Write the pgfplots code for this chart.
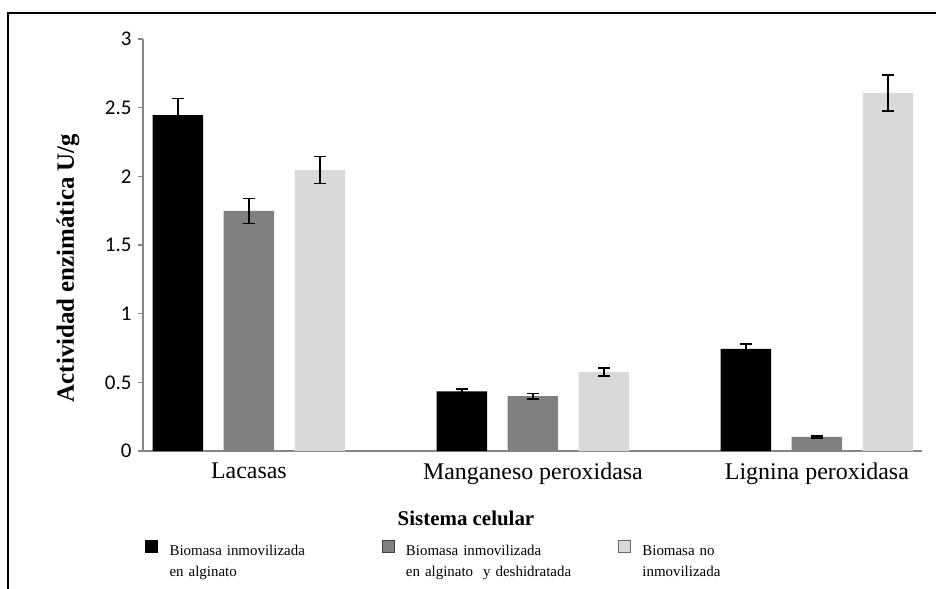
\documentclass[border=0pt]{standalone}
\usepackage{pgfplots}
\usepackage{pgfplotstable}
\pgfplotsset{compat=1.18}
\usepackage{fontspec}
\setmainfont{Liberation Serif}
\newfontfamily\carlito{Carlito}
\definecolor{serA}{HTML}{000000}
\definecolor{serB}{HTML}{808080}
\definecolor{serC}{HTML}{D9D9D9}
\definecolor{axgray}{HTML}{868686}

\pgfplotstableread{
x y e
0 2.445 0.12
1 0.435 0.015
2 0.743 0.035
}\dataA
\pgfplotstableread{
x y e
0 1.748 0.09
1 0.400 0.02
2 0.102 0.006
}\dataB
\pgfplotstableread{
x y e
0 2.046 0.10
1 0.575 0.03
2 2.607 0.13
}\dataC

\begin{document}
\begin{tikzpicture}
\path[use as bounding box] (0bp,0bp) rectangle (936bp,589bp);
\draw[line width=2bp] (8bp,0bp) -- (8bp,576bp) -- (936bp,576bp);
\begin{axis}[
  at={(143bp,138bp)}, anchor=south west,
  scale only axis, width=779bp, height=412bp,
  xmin=-0.373, xmax=2.370, ymin=0, ymax=3,
  axis x line*=bottom, axis y line*=left,
  axis line style={draw=axgray, line width=1.3bp},
  ytick={0,0.5,1,1.5,2,2.5,3},
  xtick={0,1,2},
  xticklabels={Lacasas, Manganeso peroxidasa, Lignina peroxidasa},
  x tick style={draw=none},
  y tick style={draw=axgray, line width=1.3bp},
  tick align=outside, major tick length=5bp,
  /pgf/number format/assume math mode=true,
  yticklabel style={font=\carlito\fontsize{21}{21}\selectfont, text=black, xshift=-3bp},
  xticklabel style={font=\fontsize{24}{24}\selectfont, yshift=-3bp},
  ybar, bar width=0.178,
  error bars/y dir=both, error bars/y explicit,
  error bars/error bar style={black, line width=1.4bp},
  error bars/error mark options={rotate=90, mark size=6bp, line width=1.4bp, black},
  legend columns=3,
  legend style={at={(-1bp,-87bp)}, anchor=north west, draw=none, fill=none,
    font=\fontsize{15}{21}\selectfont,
    nodes={text width=200bp, align=left, inner sep=1bp},
    /tikz/every even column/.append style={column sep=11bp},
    /tikz/every odd column/.append style={column sep=11bp}},
  clip=false,
]
\addplot[fill=serA, draw=none, bar shift=-0.25,
  legend image code/.code={\draw[fill=serA, draw=black] (0bp,-1bp) rectangle (12bp,11bp);}]
  table[x=x, y=y, y error=e] {\dataA};
\addlegendentry{Biomasa inmovilizada\\en alginato}
\addplot[fill=serB, draw=none, bar shift=0,
  legend image code/.code={\draw[fill=serB, draw=black!75] (0bp,-1bp) rectangle (12bp,11bp);}]
  table[x=x, y=y, y error=e] {\dataB};
\addlegendentry{Biomasa inmovilizada\\en alginato \ y deshidratada}
\addplot[fill=serC, draw=none, bar shift=0.25,
  legend image code/.code={\draw[fill=serC, draw=black!60] (0bp,-1bp) rectangle (12bp,11bp);}]
  table[x=x, y=y, y error=e] {\dataC};
\addlegendentry{Biomasa no\\inmovilizada}
\end{axis}
\node[rotate=90, font=\bfseries\fontsize{25}{25}\selectfont] at (68bp,321bp) {Actividad enzimática U/g};
\node[font=\bfseries\fontsize{21}{21}\selectfont] at (466bp,71bp) {Sistema celular};
\end{tikzpicture}
\end{document}
